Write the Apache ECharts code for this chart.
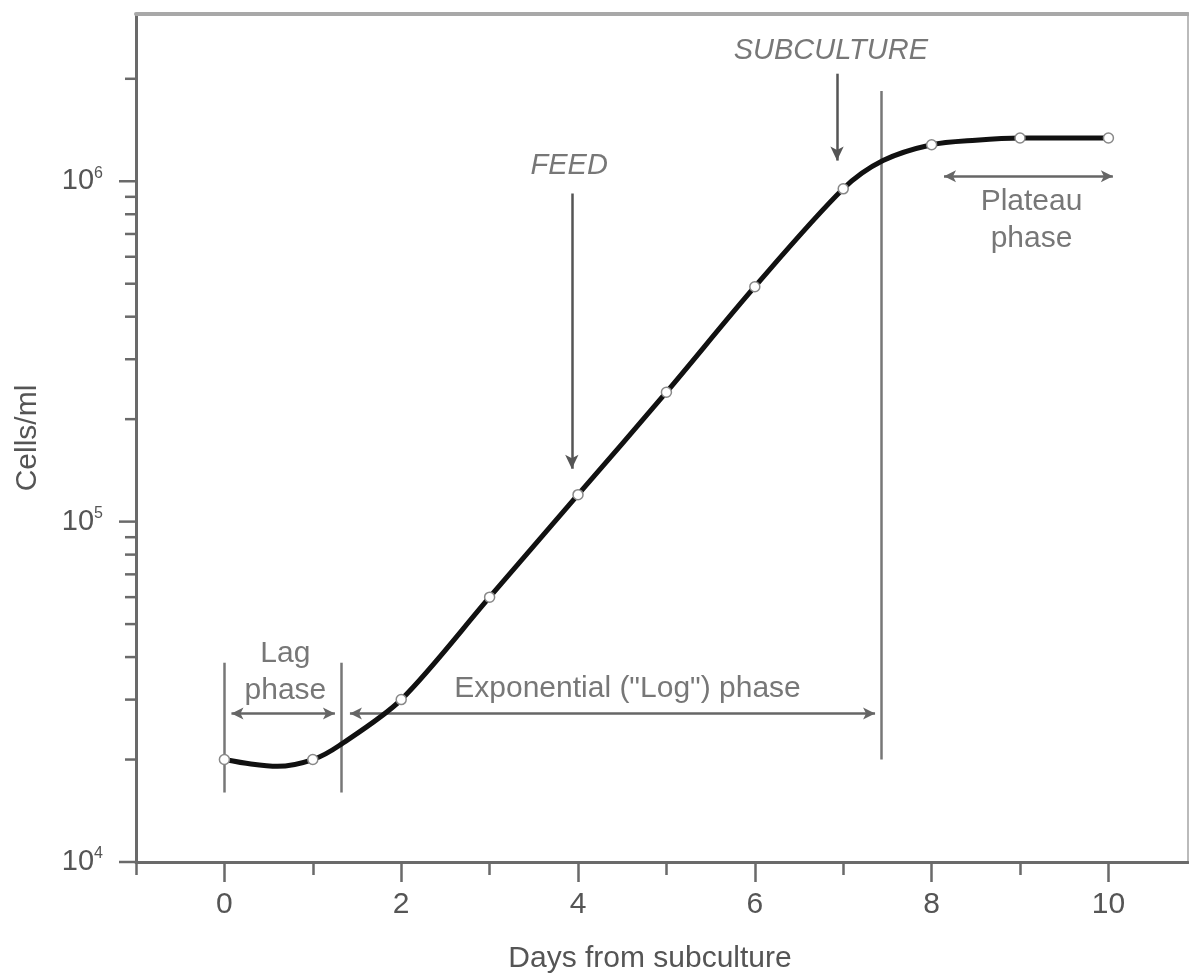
<!DOCTYPE html>
<html><head><meta charset="utf-8">
<script src="https://cdn.jsdelivr.net/npm/echarts@6/dist/echarts.min.js"></script>
<style>html,body{margin:0;padding:0;background:#fff}#c{width:1189px;height:976px}</style>
</head><body><div id="c"></div>
<script>
// ---- data ----
const days = [0, 1, 2, 3, 4, 5, 6, 7, 8, 9, 10];
const cellsPerMl = [2.0e4, 2.0e4, 3.0e4, 6.0e4, 1.2e5, 2.4e5, 4.9e5, 9.5e5, 1.28e6, 1.34e6, 1.34e6];
// smooth trace of the growth curve
const curveDays = [0, 0.3, 0.6, 1, 1.3, 2, 3, 4, 5, 6, 7, 7.45, 8, 8.5, 9, 10];
const curveCells = [2.0e4, 1.94e4, 1.91e4, 2.0e4, 2.2e4, 3.0e4, 6.0e4, 1.2e5, 2.4e5, 4.9e5, 9.5e5, 1.15e6, 1.28e6, 1.32e6, 1.34e6, 1.34e6];

const xMajorTicks = [0, 2, 4, 6, 8, 10];
const xMinorTicks = [-1, 1, 3, 5, 7, 9];
const yTickValues = [1e4, 2e4, 3e4, 4e4, 5e4, 6e4, 7e4, 8e4, 9e4,
                     1e5, 2e5, 3e5, 4e5, 5e5, 6e5, 7e5, 8e5, 9e5,
                     1e6, 2e6];

// phase boundary lines
const boundaryX = [0, 1.32, 7.43];
const boundaryLow = [1.6e4, 1.6e4, 2.0e4];
const boundaryHigh = [3.85e4, 3.85e4, 1.84e6];
// double-headed phase arrows
const phaseArrowStart = [0.08, 1.42, 8.14];
const phaseArrowEnd = [1.25, 7.36, 10.05];
const phaseArrowLevel = [2.73e4, 2.73e4, 1.035e6];
const phaseLabels = ['Lag\nphase', 'Exponential ("Log") phase', 'Plateau\nphase'];
const phaseLabelX = [0.69, 4.56, 9.13];
const phaseLabelY = [3.6e4, 3.22e4, 7.7e5];
// event arrows
const eventLabels = ['FEED', 'SUBCULTURE'];
const eventLabelX = [3.9, 6.86];
const eventLabelY = [1.107e6, 2.41e6];
const eventX = [3.93, 6.93];
const eventArrowTop = [9.2e5, 2.07e6];
const eventArrowTip = [1.43e5, 1.15e6];

// ---- chart ----
const FONT = '"Liberation Sans", Arial, sans-serif';
const TXT = '#555';
const AX = '#6a6a6a';
const chart = echarts.init(document.getElementById('c'));

const isDecade = v => Math.abs(Math.log10(v) - Math.round(Math.log10(v))) < 1e-6;

const option = {
  animation: false,
  backgroundColor: '#fff',
  grid: { left: 136, right: 1, top: 14, bottom: 114, outerBoundsMode: 'none' },
  xAxis: [
    {
      type: 'value', min: -1, max: 10.9, position: 'bottom',
      axisLine: { show: true, onZero: false, lineStyle: { color: AX, width: 3 } },
      axisTick: { show: true, customValues: xMajorTicks, length: 20, lineStyle: { color: AX, width: 2.5 } },
      axisLabel: { customValues: xMajorTicks, margin: 28, fontSize: 30, color: TXT, fontFamily: FONT },
      splitLine: { show: false },
      name: 'Days from subculture', nameLocation: 'middle', nameGap: 82,
      nameTextStyle: { fontSize: 30, color: TXT, fontFamily: FONT, padding: [0, 24, 0, 0] }
    },
    {
      type: 'value', min: -1, max: 10.9, position: 'bottom',
      axisLine: { show: false, onZero: false },
      axisTick: { show: true, customValues: xMinorTicks, length: 13, lineStyle: { color: AX, width: 2.5 } },
      axisLabel: { show: false }, splitLine: { show: false }
    },
    {
      type: 'value', min: -1, max: 10.9, position: 'top',
      axisLine: { show: true, onZero: false, lineStyle: { color: '#a8a8a8', width: 4 } },
      axisTick: { show: false }, axisLabel: { show: false }, splitLine: { show: false }
    }
  ],
  yAxis: [
    {
      type: 'log', logBase: 10, min: 1e4, max: 3.1e6, position: 'left',
      axisLine: { show: true, onZero: false, lineStyle: { color: AX, width: 3 } },
      axisTick: { show: false },
      axisLabel: {
        margin: 33, color: TXT, fontFamily: FONT,
        formatter: v => isDecade(v) && v < 3e6 ? '{b|10}{s|' + Math.round(Math.log10(v)) + '}' : '',
        rich: {
          b: { fontSize: 29, lineHeight: 32, color: TXT, fontFamily: FONT },
          s: { fontSize: 16, lineHeight: 16, verticalAlign: 'top', color: TXT, fontFamily: FONT }
        }
      },
      splitLine: { show: false },
      name: 'Cells/ml', nameLocation: 'middle', nameGap: 93,
      nameTextStyle: { fontSize: 30, color: TXT, fontFamily: FONT }
    },
    {
      type: 'log', logBase: 10, min: 1e4, max: 3.1e6, position: 'right',
      axisLine: { show: true, onZero: false, lineStyle: { color: '#bbb', width: 2 } },
      axisTick: { show: false }, axisLabel: { show: false }, splitLine: { show: false }
    }
  ],
  series: [
    {
      name: 'yTicks', type: 'custom', clip: false, silent: true, z: 5,
      data: yTickValues.map(v => [-1, v]),
      renderItem: (params, api) => {
        const v = api.value(1);
        const p = api.coord([api.value(0), v]);
        const len = isDecade(v) ? 17 : 11;
        return { type: 'line', shape: { x1: p[0] - len, y1: p[1], x2: p[0], y2: p[1] },
                 style: { stroke: AX, lineWidth: 2.5 } };
      }
    },
    {
      name: 'boundaries', type: 'line', data: [], silent: true,
      markLine: {
        silent: true, symbol: ['none', 'none'], label: { show: false },
        lineStyle: { color: '#777', width: 2.5, type: 'solid' },
        emphasis: { disabled: true },
        data: boundaryX.map((x, i) => [{ coord: [x, boundaryLow[i]] }, { coord: [x, boundaryHigh[i]] }])
      }
    },
    {
      name: 'phaseArrows', type: 'line', data: [], silent: true,
      markLine: {
        silent: true, symbol: ['arrow', 'arrow'], symbolSize: [9, 12], label: { show: false },
        lineStyle: { color: '#666', width: 2.5, type: 'solid' },
        emphasis: { disabled: true },
        data: phaseArrowStart.map((x, i) => [{ coord: [x, phaseArrowLevel[i]] }, { coord: [phaseArrowEnd[i], phaseArrowLevel[i]] }])
      }
    },
    {
      name: 'eventArrows', type: 'line', data: [], silent: true,
      markLine: {
        silent: true, symbol: ['none', 'arrow'], symbolSize: [10, 14], label: { show: false },
        lineStyle: { color: '#555', width: 2.5, type: 'solid' },
        emphasis: { disabled: true },
        data: eventX.map((x, i) => [{ coord: [x, eventArrowTop[i]] }, { coord: [x, eventArrowTip[i]] }])
      }
    },
    {
      name: 'curve', type: 'line', smooth: 0.3, symbol: 'none', z: 6, silent: true,
      lineStyle: { color: '#111', width: 5 },
      data: curveDays.map((d, i) => [d, curveCells[i]])
    },
    {
      name: 'cells', type: 'scatter', symbol: 'circle', symbolSize: 10, z: 7, silent: true,
      itemStyle: { color: '#fff', borderColor: '#888', borderWidth: 1.5, opacity: 1 },
      data: days.map((d, i) => [d, cellsPerMl[i]])
    },
    {
      name: 'notes', type: 'scatter', symbolSize: 1, z: 8, silent: true,
      itemStyle: { color: 'rgba(0,0,0,0)' },
      label: { show: true, position: 'inside', formatter: '{b}', fontSize: 30, lineHeight: 37, color: TXT, fontFamily: FONT },
      data: phaseLabels.map((t, i) => ({ name: t, value: [phaseLabelX[i], phaseLabelY[i]] }))
        .concat(eventLabels.map((t, i) => ({ name: t, value: [eventLabelX[i], eventLabelY[i]],
          label: { fontStyle: 'italic', fontSize: 29 } })))
    }
  ]
};
chart.setOption(option);
</script>
</body></html>
